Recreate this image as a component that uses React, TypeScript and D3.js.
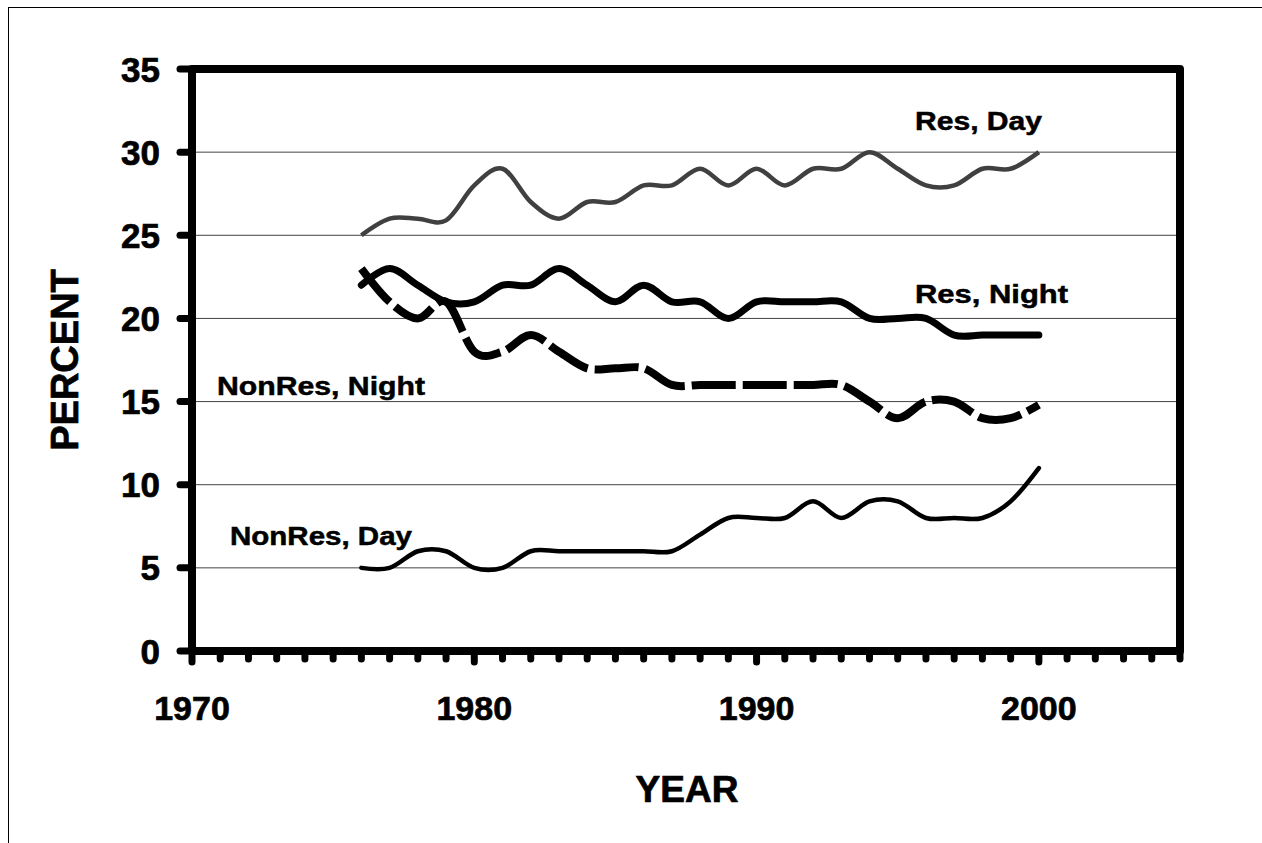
import React from "react";
import * as d3 from "d3";

const years = [1976, 1977, 1978, 1979, 1980, 1981, 1982, 1983, 1984, 1985, 1986, 1987, 1988, 1989, 1990, 1991, 1992, 1993, 1994, 1995, 1996, 1997, 1998, 1999, 2000];
const resDay = [25, 26, 26, 25.9, 28, 29, 27, 26, 27, 27, 28, 28, 29, 28, 29, 28, 29, 29, 30, 29, 28, 28, 29, 29, 30];
const resNight = [22, 23, 22, 21, 21, 22, 22, 23, 22, 21, 22, 21, 21, 20, 21, 21, 21, 21, 20, 20, 20, 19, 19, 19, 19];
const nonResNight = [23, 21, 20, 21, 18, 18, 19, 18, 17, 17, 17, 16, 16, 16, 16, 16, 16, 16, 15, 14, 15, 15, 14, 14, 14.8];
const nonResDay = [5, 5, 6, 6, 5, 5, 6, 6, 6, 6, 6, 6, 7, 8, 8, 8, 9, 8, 9, 9, 8, 8, 8, 9, 11];

const yTicks = [0, 5, 10, 15, 20, 25, 30, 35];
const xLabelTicks = [1970, 1980, 1990, 2000];
const xMinorTicks = d3.range(1970, 2006);

export default function App() {
  const W = 1262, H = 843;
  const x = d3.scaleLinear().domain([1970, 2005]).range([192, 1180]);
  const y = d3.scaleLinear().domain([0, 35]).range([651, 69]);
  const line = (vals: number[]) =>
    d3.line<number>()
      .x((_, i) => x(years[i]))
      .y((v) => y(v))
      .curve(d3.curveCardinal.tension(0))(vals) as string;

  const font = "'Liberation Sans', Arial, sans-serif";
  const x0 = x(1970), x1 = x(2005), yTop = y(35), yBot = y(0);
  const bold = { fontFamily: font, fontWeight: "bold" as const, stroke: "#000", strokeWidth: 0.7 };

  return (
    <svg width={W} height={H} style={{ position: "absolute", left: 0, top: 0, background: "#fff" }}>
      <rect x={0} y={0} width={W} height={H} fill="#fff" />
      <rect x={8.5} y={7.5} width={1400} height={1000} fill="none" stroke="#000" strokeWidth={1} />
      {yTicks.filter((t) => t > 0 && t < 35).map((t) => (
        <line key={t} x1={x0} x2={x1} y1={y(t)} y2={y(t)} stroke="#444" strokeWidth={1} />
      ))}
      <path d={`M${x0},${yTop}L${x1},${yTop}L${x1},${yBot}`} fill="none" stroke="#000" strokeWidth={8} strokeLinejoin="round" strokeLinecap="round" />
      <line x1={x0} x2={x0} y1={yTop} y2={yBot} stroke="#000" strokeWidth={8} />
      <line x1={x0} x2={x1} y1={yBot} y2={yBot} stroke="#000" strokeWidth={8} />
      {yTicks.map((t) => (
        <line key={t} x1={180} x2={x0} y1={y(t)} y2={y(t)} stroke="#000" strokeWidth={7} strokeLinecap="round" />
      ))}
      {xMinorTicks.map((t) => (
        <line key={t} x1={x(t)} x2={x(t)} y1={yBot} y2={t % 10 === 0 ? 662 : 659} stroke="#000" strokeWidth={7} strokeLinecap="round" />
      ))}
      {yTicks.map((t) => (
        <text key={t} x={160} y={y(t)} dy="0.36em" textAnchor="end" fontSize={35} {...bold}>{t}</text>
      ))}
      {xLabelTicks.map((t) => (
        <text key={t} x={x(t)} y={720} textAnchor="middle" fontSize={34} {...bold}>{t}</text>
      ))}
      <text transform={`translate(78,360) rotate(-90)`} textAnchor="middle" fontSize={38} {...bold}>PERCENT</text>
      <text x={687} y={802} textAnchor="middle" fontSize={37} {...bold}>YEAR</text>

      <path d={line(resDay)} fill="none" stroke="#404040" strokeWidth={4.5} />
      <path d={line(resNight)} fill="none" stroke="#000" strokeWidth={7} strokeLinecap="round" />
      <path d={line(nonResNight)} fill="none" stroke="#000" strokeWidth={8} strokeDasharray="44 7" />
      <path d={line(nonResDay)} fill="none" stroke="#000" strokeWidth={4.5} strokeLinecap="round" />

      <text x={915} y={130} fontSize={25} textLength={127} lengthAdjust="spacingAndGlyphs" {...bold} strokeWidth={0.5}>Res, Day</text>
      <text x={915} y={303} fontSize={25} textLength={153} lengthAdjust="spacingAndGlyphs" {...bold} strokeWidth={0.5}>Res, Night</text>
      <text x={217} y={395} fontSize={25} textLength={208} lengthAdjust="spacingAndGlyphs" {...bold} strokeWidth={0.5}>NonRes, Night</text>
      <text x={230} y={545} fontSize={25} textLength={182} lengthAdjust="spacingAndGlyphs" {...bold} strokeWidth={0.5}>NonRes, Day</text>
    </svg>
  );
}
